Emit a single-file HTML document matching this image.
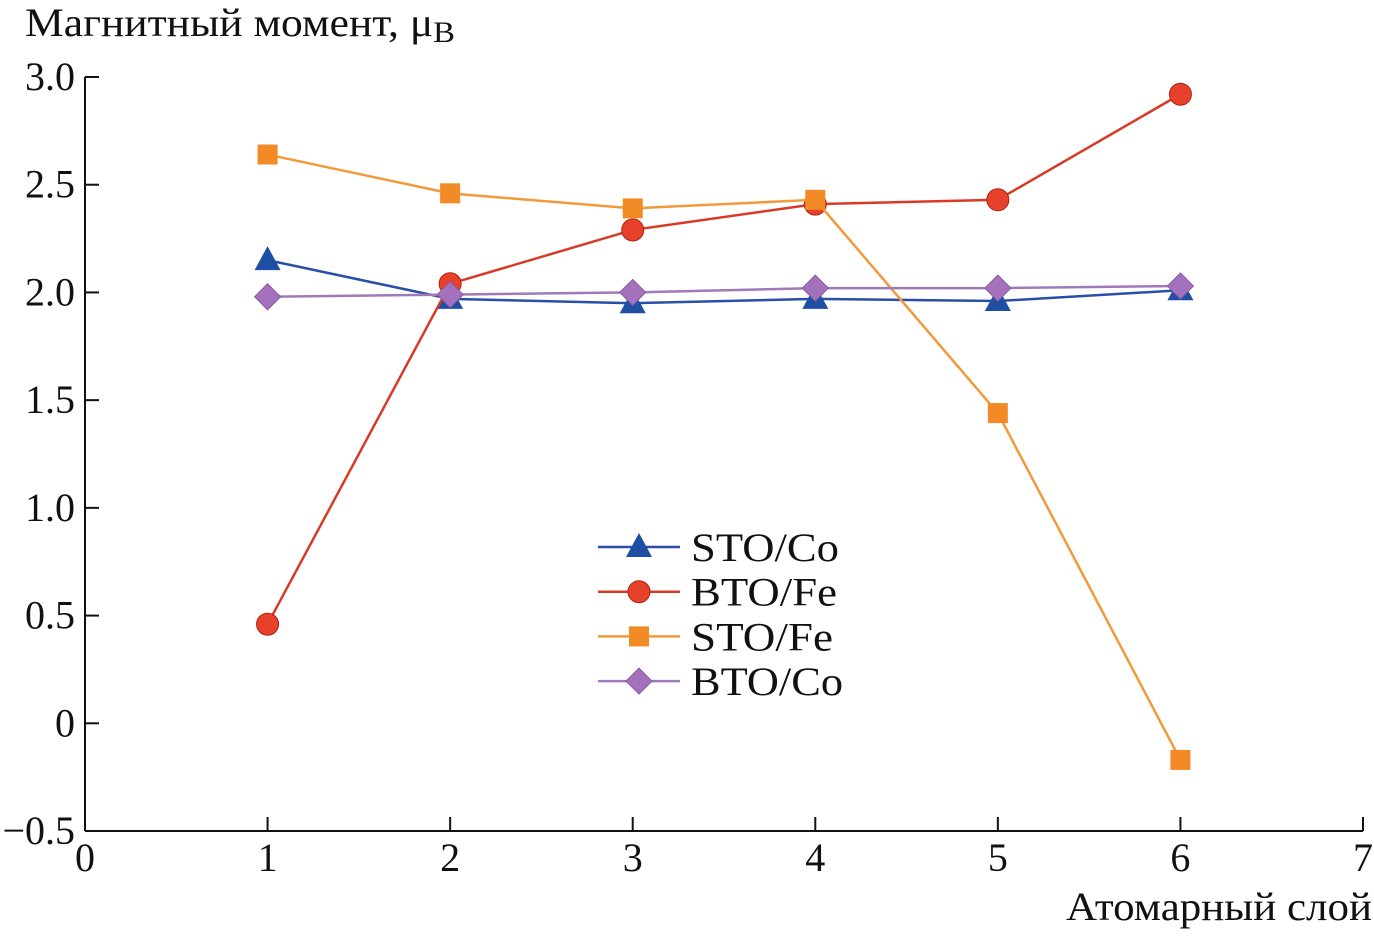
<!DOCTYPE html>
<html><head><meta charset="utf-8"><style>
body{margin:0;background:#fff;}
svg text{font-family:"Liberation Serif","DejaVu Serif",serif;fill:#111;}
</style></head><body>
<svg id="chart" width="1374" height="933" xmlns="http://www.w3.org/2000/svg">
<g id="axes"></g>
<g id="series"></g>
<g id="legend"></g>
<text x="25" y="36" font-size="40" textLength="430" lengthAdjust="spacingAndGlyphs">Магнитный момент, μ<tspan font-size="30" dy="6">B</tspan></text>
<text x="1066" y="920" font-size="40" textLength="306" lengthAdjust="spacingAndGlyphs">Атомарный слой</text>
</svg>
<script>
const layers=[1,2,3,4,5,6];
const stoCo=[2.15,1.97,1.95,1.97,1.96,2.01];
const btoFe=[0.46,2.04,2.29,2.41,2.43,2.92];
const stoFe=[2.64,2.46,2.39,2.43,1.44,-0.17];
const btoCo=[1.98,1.99,2.00,2.02,2.02,2.03];
const xTicks=[0,1,2,3,4,5,6,7];
const yTicks=[-0.5,0,0.5,1.0,1.5,2.0,2.5,3.0];
const yTickLabels=["\u22120.5","0","0.5","1.0","1.5","2.0","2.5","3.0"];
const seriesNames=["STO/Co","BTO/Fe","STO/Fe","BTO/Co"];

const NS="http://www.w3.org/2000/svg";
const X0=85,X1=1363,Y0=831,Y1=77;
const xs=v=>X0+(v-0)/7*(X1-X0);
const ys=v=>Y0-(v+0.5)/3.5*(Y0-Y1);
function mk(t,a,p){const e=document.createElementNS(NS,t);for(const k in a)e.setAttribute(k,a[k]);p.appendChild(e);return e;}
const ax=document.getElementById('axes');
let e=mk('line',{x1:X0,y1:Y0,x2:X1,y2:Y0,stroke:'#111','stroke-width':2},ax);


e=mk('line',{x1:X0,y1:Y0,x2:X0,y2:Y1,stroke:'#111','stroke-width':2},ax);


xTicks.forEach(v=>{
 mk('line',{x1:xs(v),y1:Y0,x2:xs(v),y2:Y0-14,stroke:'#111','stroke-width':2},ax);
 const t=mk('text',{x:xs(v),y:Y0+40,'font-size':40,'text-anchor':'middle'},ax);t.textContent=v;
 
 
});
yTicks.forEach((v,i)=>{
 mk('line',{x1:X0,y1:ys(v),x2:X0+14,y2:ys(v),stroke:'#111','stroke-width':2},ax);
 const t=mk('text',{x:X0-10,y:ys(v)+13,'font-size':40,'text-anchor':'end'},ax);t.textContent=yTickLabels[i];
 
 
});
const colors=['#1f4fa3','#e8412b','#f28a26','#a472bd'];
const lineColors=['#2a4fa8','#d83a26','#f29a3a','#a07ab8'];
const shapes=['tri','circ','sq','dia'];
function marker(shape,x,y,c,p){
 let el;
 if(shape==='tri')el=mk('polygon',{points:`${x},${y-14} ${x-13},${y+10} ${x+13},${y+10}`,fill:c},p);
 else if(shape==='circ')el=mk('circle',{cx:x,cy:y,r:11,fill:c,stroke:'#b02010','stroke-width':1},p);
 else if(shape==='sq')el=mk('rect',{x:x-10,y:y-10,width:20,height:20,fill:c},p);
 else el=mk('polygon',{points:`${x},${y-13} ${x+13},${y} ${x},${y+13} ${x-13},${y}`,fill:c,stroke:'#8a5aa0','stroke-width':1},p);
 return el;
}
const sg=document.getElementById('series');
[stoCo,btoFe,stoFe,btoCo].forEach((d,si)=>{
 const g=mk('g',{},sg);
 
 
 const pl=mk('polyline',{points:d.map((v,i)=>xs(layers[i])+','+ys(v)).join(' '),fill:'none',stroke:lineColors[si],'stroke-width':2.5},g);
 
 
 d.forEach((v,i)=>{
  const m=marker(shapes[si],xs(layers[i]),ys(v),colors[si],g);
  
  
 });
});
const lg=document.getElementById('legend');
const legendWidths=[148,146,142,152];
seriesNames.forEach((n,i)=>{
 const y=547+i*44.7;
 const g=mk('g',{},lg);
 
 
 mk('line',{x1:598,y1:y,x2:680,y2:y,stroke:lineColors[i],'stroke-width':2.5},g);
 marker(shapes[i],639,y,colors[i],g);
 const t=mk('text',{x:691,y:y+14,'font-size':40,textLength:legendWidths[i],lengthAdjust:'spacingAndGlyphs'},g);t.textContent=n;
});
</script>
</body></html>
